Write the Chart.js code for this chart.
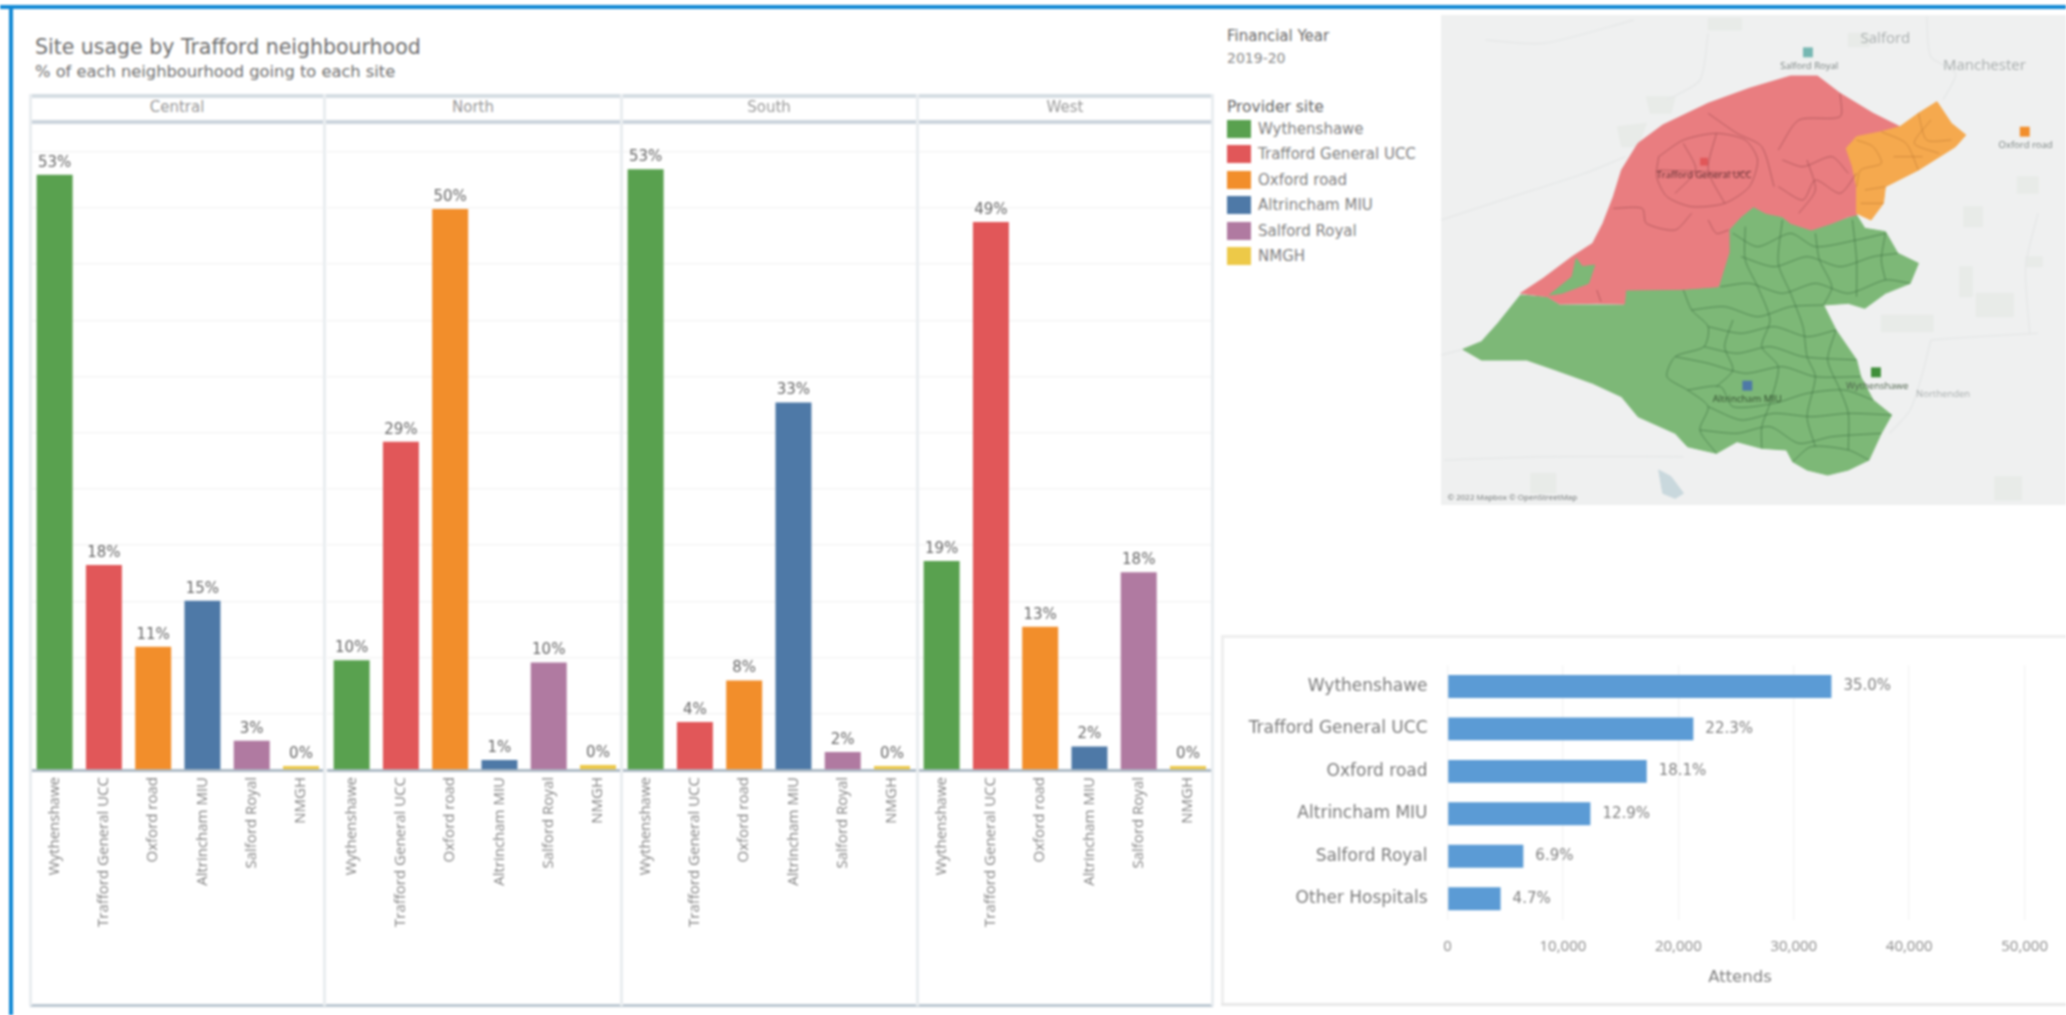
<!DOCTYPE html>
<html><head><meta charset="utf-8">
<script src="https://cdn.jsdelivr.net/npm/chart.js@4/dist/chart.umd.min.js"></script>
<style>
html,body{margin:0;padding:0;background:#fff;overflow:hidden}
#page{position:relative;width:2066px;height:1015px;background:#fff;overflow:hidden;filter:blur(1.2px);font-family:"DejaVu Sans",sans-serif}
#page canvas{position:absolute}
.t{position:absolute;white-space:nowrap;transform:translateY(-50%);color:#808080}
.l{position:absolute}
.s{position:absolute;left:1227px;width:24px;height:18px}
</style></head><body><div id="page"></div>
<script>
// ---- data ----
const sites=["Wythenshawe","Trafford General UCC","Oxford road","Altrincham MIU","Salford Royal","NMGH"];
const siteColours=["#59A14F","#E15759","#F28E2B","#4E79A7","#B07AA1","#EDC948"];
const neighbourhoods=["Central","North","South","West"];
const central=[52.95,18.24,10.96,15.05,2.6,0.35];
const north=[9.77,29.2,49.9,0.9,9.57,0.45];
const south=[53.45,4.28,7.97,32.7,1.6,0.35];
const west=[18.6,48.75,12.75,2.1,17.6,0.35];
const attendSites=["Wythenshawe","Trafford General UCC","Oxford road","Altrincham MIU","Salford Royal","Other Hospitals"];
const attends=[33260,21300,17260,12380,6570,4600];
const attendShare=["35.0%","22.3%","18.1%","12.9%","6.9%","4.7%"];
const attendTicks=[0,10000,20000,30000,40000,50000];
// map outlines as [east, south]
const redArea=[[245,880],[300,835],[370,770],[420,730],[445,670],[470,590],[490,510],[530,430],[590,375],[700,310],[800,265],[900,228],[965,228],[1020,280],[1100,340],[1165,380],[1120,395],[1060,410],[1035,445],[1050,500],[1060,560],[1060,645],[1040,650],[1000,670],[950,690],[900,670],[880,650],[840,640],[810,620],[780,650],[750,690],[750,760],[725,860],[640,868],[500,870],[497,912],[430,910],[340,912],[310,890]];
const greenArea=[[245,885],[310,892],[340,915],[497,915],[500,870],[725,860],[750,760],[750,690],[780,650],[810,620],[840,640],[880,650],[900,670],[950,690],[1000,670],[1060,645],[1080,685],[1130,695],[1160,760],[1210,790],[1190,850],[1130,880],[1080,925],[1040,910],[980,915],[1010,990],[1060,1080],[1070,1130],[1100,1200],[1145,1245],[1120,1300],[1090,1380],[1040,1410],[990,1425],[940,1410],[905,1385],[890,1350],[830,1345],[770,1325],[720,1360],[650,1340],[620,1300],[530,1250],[490,1190],[420,1150],[330,1110],[260,1080],[150,1080],[105,1048],[150,1025],[190,970]];
const greenInlet=[[380,775],[395,800],[425,795],[410,850],[345,880],[315,885],[370,830]];
const orangeArea=[[1255,305],[1290,370],[1325,405],[1300,440],[1210,510],[1130,560],[1125,610],[1095,660],[1060,640],[1060,560],[1050,500],[1035,445],[1060,410],[1120,395],[1165,380],[1210,340]];
const lake=[[580,1410],[610,1430],[640,1480],[620,1495],[590,1480]];
const parks=[[[1120,945],[1245,945],[1245,995],[1120,995]],[[1040,100],[1090,100],[1090,140],[1040,140]],[[1450,530],[1500,530],[1500,580],[1450,580]],[[1310,800],[1340,800],[1340,890],[1310,890]],[[480,380],[550,370],[530,440],[490,440]],[[1350,880],[1440,880],[1440,950],[1350,950]],[[1320,620],[1365,620],[1365,680],[1320,680]],[[1470,770],[1510,770],[1510,800],[1470,800]],[[700,55],[780,55],[780,90],[700,90]],[[550,290],[620,290],[610,340],[560,340]],[[270,1420],[330,1420],[330,1480],[270,1480]],[[1395,1430],[1460,1430],[1460,1500],[1395,1500]]];
const roads=[[[52,660],[200,600],[400,520],[500,470]],[[52,1065],[105,1048]],[[1230,50],[1240,170],[1300,220],[1270,300]],[[1240,1020],[1220,1120],[1190,1230],[1140,1300]],[[1240,1020],[1350,1010],[1500,1000]],[[60,1380],[300,1370],[640,1370]],[[1480,1000],[1470,800],[1500,640]],[[700,100],[680,240],[600,300]],[[160,120],[300,130],[520,60]]];
const redBorders=[[[700,340],[770,400],[830,440],[860,560]],[[870,450],[920,360],[1020,350],[1020,280]],[[580,470],[640,420],[720,400],[790,420],[820,480],[800,560],[740,610],[660,620],[600,590],[575,530],[580,470]],[[470,625],[540,625],[550,670],[620,690],[660,640]],[[700,660],[720,700],[750,690]],[[640,430],[670,510],[620,580]],[[720,400],[700,510],[740,610]],[[580,510],[800,520]],[[880,480],[930,500],[1000,470],[1040,520]],[[870,560],[930,600],[960,540],[1020,580],[1060,520]],[[940,480],[960,570],[920,640]],[[430,870],[440,905]]];
const greenBorders=[[[640,870],[660,930],[700,980],[690,1040],[620,1070],[600,1130],[650,1170],[700,1220],[680,1290],[720,1360]],[[760,700],[820,740],[900,700],[960,740],[1060,720],[1130,700]],[[780,770],[860,800],[940,770],[1020,800],[1100,770],[1160,760]],[[730,860],[800,850],[880,880],[960,850],[1040,880],[1130,840],[1190,850]],[[660,930],[740,920],[820,950],[900,920],[980,915]],[[700,980],[780,1000],[860,980],[940,1010],[1010,990]],[[690,1040],[770,1060],[850,1040],[930,1070],[1060,1080]],[[620,1070],[700,1090],[790,1120],[880,1100],[960,1130],[1070,1130]],[[650,1170],[730,1160],[760,1220],[860,1210],[940,1180],[1030,1170],[1100,1200]],[[700,1220],[780,1260],[860,1240],[950,1250],[1040,1240],[1145,1245]],[[680,1290],[770,1300],[850,1280],[920,1330],[1000,1310],[1120,1300]],[[905,1385],[950,1340],[1040,1350],[1090,1380]],[[790,680],[790,780],[820,860],[850,960],[830,1040],[870,1100],[850,1210],[830,1280],[830,1345]],[[880,660],[870,790],[900,880],[930,980],[940,1070],[960,1130],[940,1250],[960,1340]],[[960,700],[970,780],[1000,860],[980,915]],[[1050,660],[1060,780],[1060,890]],[[1010,990],[990,1080],[1020,1170],[1040,1240],[1040,1350]],[[760,960],[740,1040],[760,1110],[720,1160]],[[1130,700],[1120,780],[1130,840]]];
const orangeBorders=[[[1060,420],[1100,440],[1120,490],[1070,510],[1060,560]],[[1120,395],[1180,430],[1210,510]],[[1210,340],[1230,420],[1290,420]],[[1080,570],[1130,560]],[[1240,360],[1200,430],[1260,460]],[[1070,610],[1125,610]],[[1150,470],[1220,470]]];
const sitePoints=[{x:942,y:157,c:"#76B7B2",r:7},{x:1468,y:395,c:"#F28E2B",r:7},{x:690,y:485,c:"#E15759",r:5.5},{x:795,y:1157,c:"#4E79A7",r:7},{x:1107,y:1117,c:"#3f8f3a",r:7}];
const mapLabels=[["Salford",1130,115,15,"#a9aeae"],["Manchester",1370,197,15,"#a9aeae"],["Salford Royal",945,198,9.5,"#77807f"],["Oxford road",1470,437,9.5,"#77807f"],["Trafford General UCC",690,527,9.5,"#5a2c2e"],["Altrincham MIU",795,1198,9.5,"#2f4a2c"],["Wythenshawe",1110,1160,9.5,"#4b6049"],["Northenden",1270,1183,9.5,"#a8adad"],["© 2022 Mapbox © OpenStreetMap",225,1493,8,"#6d7272"]];

// ---- page furniture ----
const page=document.getElementById("page");
const OPEN='"Open Sans",sans-serif';
const WIDE='"DejaVu Sans",sans-serif';
function text(s,x,y,size,col,extra){const d=document.createElement("div");d.className="t";d.textContent=s;d.style.cssText=`left:${x}px;top:${y}px;font-size:${size}px;color:${col};${extra||""}`;page.appendChild(d);return d;}
function rect(x,y,w,h,c){const d=document.createElement("div");d.className="l";d.style.cssText=`left:${x}px;top:${y}px;width:${w}px;height:${h}px;background:${c}`;page.appendChild(d);}
function canvas(x,y,w,h){const c=document.createElement("canvas");c.width=w;c.height=h;c.style.cssText=`left:${x}px;top:${y}px;width:${w}px;height:${h}px`;page.appendChild(c);return c;}

rect(0,4.5,2066,4,"#1188d4");rect(8.5,4.5,4,1011,"#1188d4");
text("Site usage by Trafford neighbourhood",35,47,20.5,"#6e6e6e");
text("% of each neighbourhood going to each site",35,71,16.3,"#707070");
text("Financial Year",1227,36,15,"#666");
text("2019-20",1227,58,14,"#888");
text("Provider site",1227,107,15.5,"#666");
sites.forEach((s,i)=>{
  const y=120+i*25.4;
  const b=document.createElement("div");b.className="s";b.style.top=y+"px";b.style.background=siteColours[i];page.appendChild(b);
  text(s,1258,y+9,15,"#808080");
});

// ---- facets ----
const panelLeft=[30,327,621,917];
const dividers=[30,324,621,917,1212];
const panelData=[central,north,south,west];
const headerCentre=[177,473,769,1065];
const valueLabels={id:"valueLabels",afterDatasetsDraw(ch){
  const ctx=ch.ctx,m=ch.getDatasetMeta(0);ctx.save();ctx.font="15px "+WIDE;ctx.fillStyle="#666";ctx.textAlign="center";ctx.textBaseline="middle";
  m.data.forEach((b,i)=>ctx.fillText(Math.round(ch.data.datasets[0].data[i])+"%",b.x,b.y-12));ctx.restore();}};
neighbourhoods.forEach((n,k)=>{
  new Chart(canvas(panelLeft[k],122,296,890),{type:"bar",plugins:[valueLabels],
   data:{labels:sites,datasets:[{data:panelData[k],backgroundColor:siteColours,barPercentage:0.73,categoryPercentage:1,borderWidth:0}]},
   options:{responsive:false,animation:false,layout:{padding:0,autoPadding:false},plugins:{legend:{display:false},tooltip:{enabled:false}},
    scales:{
     x:{afterFit(s){s.height=242;},grid:{display:false,drawTicks:false},border:{color:"#aebbc6",width:3},
        ticks:{minRotation:90,maxRotation:90,autoSkip:false,padding:7,color:"#808080",font:{size:15,family:OPEN}}},
     y:{min:0,max:57.65,afterFit(s){s.width=0;},afterBuildTicks(s){s.ticks=s.ticks.filter(t=>t.value%5===0);},
        ticks:{display:false,stepSize:5},border:{display:false},grid:{color:"#f5f5f5",lineWidth:1.5,drawTicks:false}}
    }}});
  text(n,headerCentre[k],107,15,"#999","transform:translate(-50%,-50%);");
});
rect(30,94,1183,4,"#d5dde3");rect(30,120,1183,4,"#ccd5dd");rect(30,1004,1183,3,"#bcc8d2");
dividers.forEach(x=>rect(x-1,94,3,912,"#e9edf0"));

// ---- attends chart ----
rect(1221,635,845,3,"#eeeeee");rect(1221,635,3,370,"#eeeeee");rect(1221,1003,845,3,"#e8e8e8");
const shareLabels={id:"shareLabels",afterDatasetsDraw(ch){
  const ctx=ch.ctx,m=ch.getDatasetMeta(0);ctx.save();ctx.font="15px "+WIDE;ctx.fillStyle="#808080";ctx.textAlign="left";ctx.textBaseline="middle";
  m.data.forEach((b,i)=>ctx.fillText(attendShare[i],b.x+12,b.y));ctx.restore();}};
new Chart(canvas(1222,635,844,368),{type:"bar",plugins:[shareLabels],
 data:{labels:attendSites,datasets:[{data:attends,backgroundColor:"#5B9BD5",barPercentage:0.54,categoryPercentage:1,borderWidth:0}]},
 options:{indexAxis:"y",responsive:false,animation:false,layout:{padding:{top:18,right:0,left:0,bottom:0},autoPadding:false},plugins:{legend:{display:false},tooltip:{enabled:false}},
  scales:{
   y:{afterFit(s){s.width=225.5;},grid:{display:false,drawTicks:false},border:{display:false},ticks:{padding:20,color:"#7a7a7a",font:{size:17,family:WIDE}}},
   x:{min:0,max:53090,afterFit(s){s.height=83;},afterBuildTicks(s){s.ticks=attendTicks.map(v=>({value:v}));},
      border:{display:false},grid:{color:"#f5f5f5",lineWidth:1.5,drawTicks:false},
      ticks:{padding:18,maxRotation:0,color:"#8a8a8a",font:{size:15,family:OPEN},callback:v=>v.toLocaleString("en-GB")}}
  }}});
text("Attends",1740,976,16.5,"#808080","transform:translate(-50%,-50%);");

// ---- map ----
const xy=a=>a.map(p=>({x:p[0],y:p[1]}));
const area=(pts,fill)=>({type:"scatter",data:xy(pts.concat([pts[0]])),showLine:true,fill:"shape",backgroundColor:fill,borderColor:fill,borderWidth:1,pointRadius:0,tension:0});
const line=(pts,col,w)=>({type:"scatter",data:xy(pts),showLine:true,fill:false,borderColor:col,borderWidth:w,pointRadius:0,tension:0.25});
const mapText={id:"mapText",afterDatasetsDraw(ch){
  const ctx=ch.ctx,X=ch.scales.x,Y=ch.scales.y;ctx.save();ctx.textAlign="center";ctx.textBaseline="middle";
  mapLabels.forEach(l=>{ctx.font=l[3]+"px "+OPEN;ctx.fillStyle=l[4];ctx.fillText(l[0],X.getPixelForValue(l[1]),Y.getPixelForValue(l[2]));});ctx.restore();}};
const mapBg={id:"mapBg",beforeDraw(ch){ch.ctx.save();ch.ctx.fillStyle="#eff0f0";ch.ctx.fillRect(0,0,ch.width,ch.height);ch.ctx.restore();}};
// Chart.js paints the first dataset last, so the list runs from top layer to bottom layer
new Chart(canvas(1441,15,625,490),{plugins:[mapBg,mapText],
 data:{datasets:[
  {type:"scatter",data:sitePoints.map(p=>({x:p.x,y:p.y})),pointBackgroundColor:sitePoints.map(p=>p.c),pointBorderWidth:0,pointRadius:sitePoints.map(p=>p.r),pointStyle:"rect",showLine:false},
  ...redBorders.map(r=>line(r,"rgba(150,70,75,.6)",1)),
  ...greenBorders.map(r=>line(r,"rgba(60,110,65,.65)",1)),
  ...orangeBorders.map(r=>line(r,"rgba(190,120,50,.6)",1)),
  area(orangeArea,"#F5A94E"),area(greenInlet,"#7DB877"),area(redArea,"#E97D80"),area(greenArea,"#7DB877"),
  ...roads.map(r=>line(r,"#e6e8e8",1.5)),
  area(lake,"#c9d8dd"),
  ...parks.map(p=>area(p,"#e8ebe8"))
 ]},
 options:{responsive:false,animation:false,layout:{padding:0,autoPadding:false},plugins:{legend:{display:false},tooltip:{enabled:false}},
  scales:{x:{type:"linear",min:52,max:1568,display:false},y:{type:"linear",min:45,max:1515,reverse:true,display:false}}}});
</script></body></html>
